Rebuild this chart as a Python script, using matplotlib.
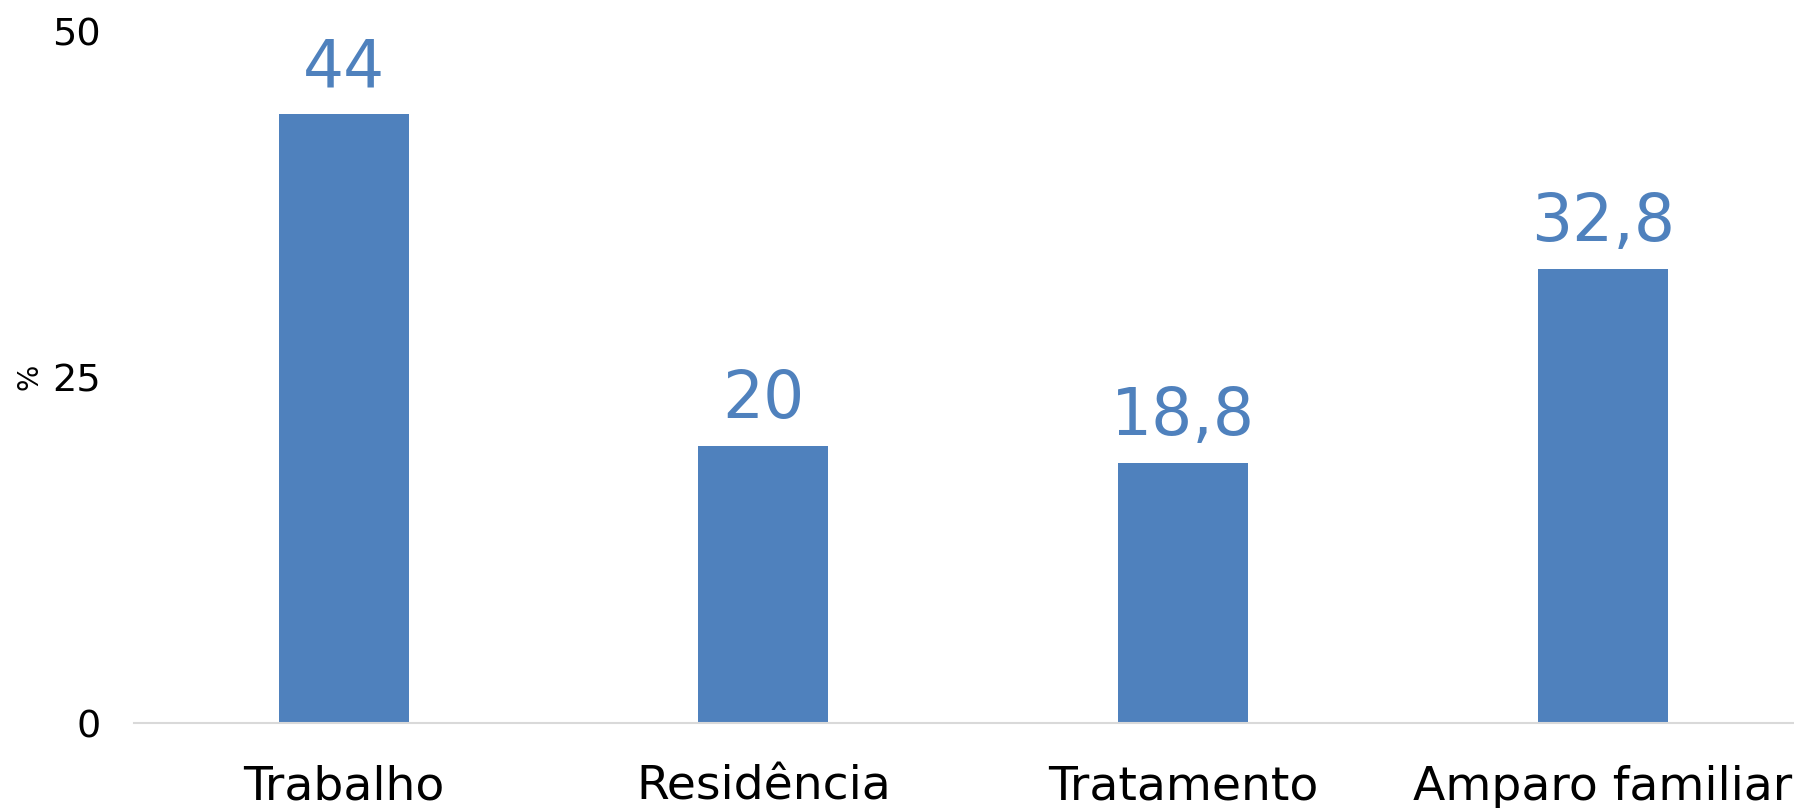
import matplotlib
matplotlib.use("Agg")
from matplotlib import pyplot as plt
import numpy as np

# data
categories = ['Trabalho', 'Residência', 'Tratamento', 'Amparo familiar']
values = [44, 20, 18.8, 32.8]
value_labels = ['44', '20', '18,8', '32,8']
yticks = [0, 25, 50]

bar_color = '#4f81bd'
plt.rcParams['font.family'] = ['DejaVu Sans']

fig = plt.figure(figsize=(17.94, 8.08), dpi=100)
ax = fig.add_axes([0.0747, 0.105, 0.9253, 0.8565])

x = np.arange(len(categories))
bars = ax.bar(x, values, width=0.31, color=bar_color, zorder=2)

for b, lab in zip(bars, value_labels):
    ax.annotate(lab, (b.get_x() + b.get_width() / 2, b.get_height()),
                xytext=(0, 10), textcoords='offset points',
                ha='center', va='bottom', fontsize=46.5, color=bar_color)

ax.set_xlim(-0.5, 3.456)
ax.set_ylim(0, 50)
ax.set_yticks(yticks)
ax.set_yticklabels([str(t) for t in yticks])
ax.set_xticks(x)
ax.set_xticklabels(categories)

ax.tick_params(axis='y', length=0, pad=24, labelsize=27.5)
ax.tick_params(axis='x', length=0, pad=30, labelsize=34)
ax.set_ylabel('%', fontsize=20, labelpad=6)

for s in ['top', 'right', 'left']:
    ax.spines[s].set_visible(False)
ax.spines['bottom'].set_color('#d9d9d9')
ax.spines['bottom'].set_linewidth(1.5)

fig.savefig('out.png', dpi=100)
